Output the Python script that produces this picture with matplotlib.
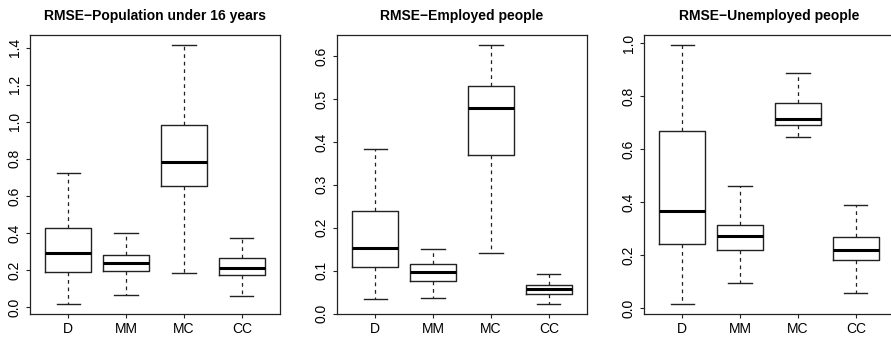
import matplotlib
matplotlib.use("Agg")
import matplotlib.pyplot as plt

plt.rcParams['font.family'] = ['Liberation Sans', 'DejaVu Sans']

# Method labels
methods = ["D", "MM", "MC", "CC"]

# Box stats: (low whisker, Q1, median, Q3, high whisker)
pop_under16 = [
    (0.018, 0.190, 0.293, 0.426, 0.721),
    (0.065, 0.195, 0.238, 0.280, 0.401),
    (0.181, 0.654, 0.782, 0.983, 1.413),
    (0.058, 0.173, 0.213, 0.262, 0.374),
]
employed = [
    (0.033, 0.109, 0.153, 0.238, 0.383),
    (0.036, 0.075, 0.096, 0.116, 0.151),
    (0.142, 0.369, 0.479, 0.530, 0.625),
    (0.023, 0.045, 0.058, 0.066, 0.092),
]
unemployed = [
    (0.018, 0.241, 0.368, 0.667, 0.991),
    (0.096, 0.222, 0.271, 0.315, 0.462),
    (0.646, 0.690, 0.712, 0.774, 0.888),
    (0.059, 0.184, 0.219, 0.269, 0.390),
]

titles = ["RMSE\u2212Population under 16 years",
          "RMSE\u2212Employed people",
          "RMSE\u2212Unemployed people"]
panels = [pop_under16, employed, unemployed]
yticks = [[0.0, 0.2, 0.4, 0.6, 0.8, 1.0, 1.2, 1.4],
          [0.0, 0.1, 0.2, 0.3, 0.4, 0.5, 0.6],
          [0.0, 0.2, 0.4, 0.6, 0.8, 1.0]]

W, H = 891, 342
fig = plt.figure(figsize=(W / 100, H / 100), dpi=100)
lefts = [30, 337, 644]

for left, data, title, ticks in zip(lefts, panels, titles, yticks):
    ax = fig.add_axes([left / W, 28 / H, 250 / W, 279 / H])
    stats = []
    for name, (lo, q1, med, q3, hi) in zip(methods, data):
        stats.append(dict(label=name, whislo=lo, q1=q1, med=med, q3=q3, whishi=hi, fliers=[]))
    ax.bxp(stats, widths=0.8, showfliers=False,
           boxprops=dict(color="#222222", linewidth=1.0),
           medianprops=dict(color="black", linewidth=2.2, solid_capstyle="butt"),
           whiskerprops=dict(color="#222222", linewidth=0.9, linestyle=(0, (3, 3))),
           capprops=dict(color="#222222", linewidth=1.0),
           capwidths=0.4)
    lo = min(d[0] for d in data)
    hi = max(d[4] for d in data)
    pad = 0.04 * (hi - lo)
    ax.set_ylim(lo - pad, hi + pad)
    ax.set_xlim(0.34, 4.66)
    ax.set_yticks(ticks)
    ax.set_yticklabels([f"{t:.1f}" for t in ticks], rotation=90, va="center", fontsize=10)
    ax.set_xticks([1, 2, 3, 4])
    ax.set_xticklabels(methods, fontsize=10)
    ax.tick_params(length=3, width=0.8, color="#222222", pad=3)
    for s in ax.spines.values():
        s.set_linewidth(0.9)
        s.set_color("#222222")
    ax.set_title(title, fontsize=10, fontweight="bold", pad=11)

fig.savefig("out.png", dpi=100)
